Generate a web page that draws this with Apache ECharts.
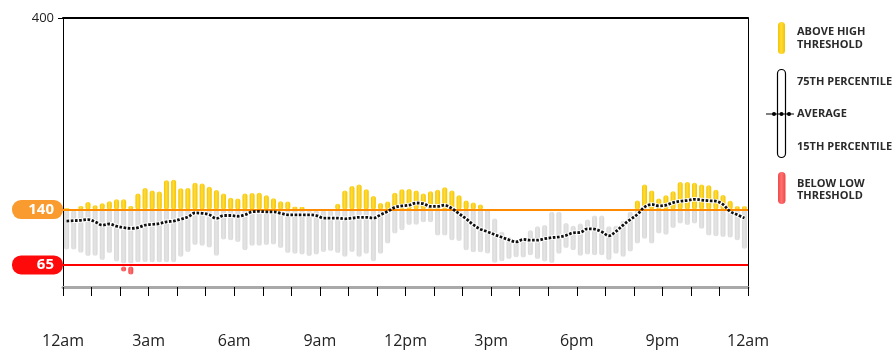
<!DOCTYPE html>
<html><head><meta charset="utf-8">
<script src="https://cdn.jsdelivr.net/npm/echarts@6/dist/echarts.min.js"></script>
<style>html,body{margin:0;padding:0;background:#fff}#c{width:895px;height:356px}</style>
</head><body><div id="c"></div>
<script>
// ---- data ----
const tickLabels = ['12am','3am','6am','9am','12pm','3pm','6pm','9pm','12am'];
const yLabelValues = [400];
const HIGH = 140;
const LOW = 65;
const slotHours = 0.25; // 96 slots of 15 minutes

const p75 = [142,139,145,150.5,146,148.5,151.5,154,154,145,162,169.5,166,164.5,180,180.5,
  169,169.5,176.5,175.5,171,166.5,162,156,155,162,162.5,163,159.5,155.5,151.5,151,
  144,143.5,139,139,139,139,148,166,172,174,167.5,158.5,149,151,163,167.5,
  168,166,162,165,167,170.5,166,159.5,152.5,149.5,147,141,128,110,103,98.5,
  100.5,112,117.5,119,137,137,122,118,121,126.5,132,132,117.5,118,125,137,
  152.5,174,166,155,159.5,165,177.5,177.5,176.5,174,173,167,160,152,144.5,144.5];

const p15 = [86,86,81.5,77,77.5,71.5,81,69.5,56,52,68.5,69,68.5,68.5,68.5,68.5,
  76,82.5,92,91,88.5,77.5,99.5,98.5,96,85,91,91,92,92.5,88,81,
  80,79,77,79,82.5,84,81,76,82.5,76,80,70,80,94,107.5,112,
  119,119.5,123,123,105,105,98.5,97.5,85,82,82,80.5,68,70,73,75.5,
  75,78,73,69.5,67.5,80,88,85,77.5,79,78,78,71.5,80,76,83,
  94,100.5,94,107.5,106,115,121,119,121,114,105,104,103,102,98.5,87];

const avg = [124.5,125,125.5,126.5,123.5,119,120.5,117.5,115.5,114.5,115.5,119,120,121,123.5,124.5,
  127,130,135.5,135,133,128,132,132,131,133,137,137.5,137,137,135,133,
  133,133,133,132,128.5,128.5,128.5,127.5,128.5,129.5,129.5,128.5,133,137.5,143,145,
  146,149,148,144.5,144.5,146,141.5,134.5,127.5,119.5,113.5,110,106,102.5,99,96.2,
  99.5,98.5,98.5,100.5,102,103,105,108.5,109,114,113.5,110,104.5,110.5,119,126.5,
  133.5,143.5,147,145,146,149.5,151.5,152.5,154,153,152,151.5,147,137.5,133,128.5];

// ---- build ----
const barData = p75.map((t, i) => [i * slotHours + slotHours / 2, p15[i], t]);
const avgData = avg.map((v, i) => [i * slotHours + slotHours / 2, v]);

const yellowFill = {type:'linear',x:0,y:0,x2:1,y2:0,colorStops:[
  {offset:0,color:'#f3c300'},{offset:0.45,color:'#ffdc3a'},{offset:1,color:'#f3c300'}]};
const grayFill = {type:'linear',x:0,y:0,x2:1,y2:0,colorStops:[
  {offset:0,color:'#d8d8d8'},{offset:0.45,color:'#e4e4e4'},{offset:1,color:'#d8d8d8'}]};
const redFill = {type:'linear',x:0,y:0,x2:1,y2:0,colorStops:[
  {offset:0,color:'#f04848'},{offset:0.45,color:'#ff7070'},{offset:1,color:'#f04848'}]};

function renderItem(params, api) {
  const x = api.value(0), lo = api.value(1), hi = api.value(2);
  const w = 5;
  const kids = [];
  function seg(a, b, fill, padTop, padBot) {
    const pt = api.coord([x, b]);
    const pb = api.coord([x, a]);
    const y1 = pt[1] + padTop, y2 = pb[1] - padBot;
    if (y2 - y1 <= 0) return;
    kids.push({type:'rect', shape:{x:pt[0]-w/2, y:y1, width:w, height:y2-y1, r:2.5}, style:{fill:fill}});
  }
  if (hi > HIGH) seg(Math.max(lo, HIGH), hi, yellowFill, 0, 0);
  const gTop = Math.min(hi, HIGH), gBot = Math.max(lo, LOW);
  if (gTop > gBot) seg(gBot, gTop, grayFill, 0, lo < LOW ? 1.5 : 0);
  if (lo < LOW) seg(lo, Math.min(hi, LOW), redFill, 1.5, 0);
  return {type:'group', children:kids};
}

function pillLabel(text, bg) {
  return {show:true, position:'start', distance:0, formatter:text, color:'#fff',
    fontSize:15, fontWeight:'bold', fontFamily:'Open Sans', backgroundColor:bg,
    borderRadius:9, padding:[1,9,1,4], width:38, lineHeight:17, align:'right'};
}

const lgFont = 'bold 11px "Open Sans"';
function lgText(x, y, t) {
  return {type:'text', x:x, y:y, style:{text:t, font:lgFont, fill:'#2a2a2a', verticalAlign:'middle'}};
}

const option = {
  animation:false,
  grid:{left:63, right:147, top:18, bottom:69, containLabel:false},
  xAxis:[
    {type:'value', min:0, max:24, interval:1, position:'bottom',
     axisLine:{show:true, onZero:false, lineStyle:{color:'#a9a9a9', width:3}},
     axisTick:{show:true, length:9, lineStyle:{color:'#000', width:1}},
     axisLabel:{show:true, margin:46, fontSize:16, color:'#222', fontFamily:'Open Sans',
       showMinLabel:true, showMaxLabel:true,
       formatter:v => (v % 3 === 0 ? tickLabels[v / 3] : '')},
     splitLine:{show:false}},
    {type:'value', min:0, max:24, position:'top',
     axisLine:{show:true, onZero:false, lineStyle:{color:'#000', width:2}},
     axisTick:{show:false}, axisLabel:{show:false}, splitLine:{show:false}}
  ],
  yAxis:[
    {type:'value', min:35, max:400, position:'left',
     axisLine:{show:true, onZero:false, lineStyle:{color:'#000', width:1}},
     axisTick:{show:true, length:5, customValues:yLabelValues, lineStyle:{color:'#000'}},
     axisLabel:{show:true, customValues:yLabelValues, margin:9, fontSize:13, color:'#222', fontFamily:'Open Sans'},
     splitLine:{show:false}},
    {type:'value', min:35, max:400, position:'right',
     axisLine:{show:true, onZero:false, lineStyle:{color:'#000', width:1}},
     axisTick:{show:false}, axisLabel:{show:false}, splitLine:{show:false}}
  ],
  series:[
    {type:'custom', renderItem:renderItem, data:barData, z:2,
     encode:{x:0, y:[1,2]},
     markLine:{silent:true, symbol:['none','none'], animation:false,
       data:[
         {yAxis:HIGH, lineStyle:{color:'#ff8a00', width:2, type:'solid'}, label:pillLabel('140','#f99b2e')},
         {yAxis:LOW, lineStyle:{color:'#ff0000', width:2, type:'solid'}, label:pillLabel('65','#ff0a0a')}
       ]}},
    {type:'line', data:avgData, smooth:0.35, symbol:'none', z:4,
     lineStyle:{color:'#ffffff', width:4.5, opacity:0.95}},
    {type:'line', data:avgData, smooth:0.35, symbol:'none', z:5,
     lineStyle:{color:'#111', width:2.8, type:[2.6,1.6], cap:'butt'}}
  ],
  graphic:[
    {type:'rect', shape:{x:778, y:22, width:7, height:32, r:3.5}, style:{fill:yellowFill}},
    lgText(797, 32, 'ABOVE HIGH'),
    lgText(797, 45, 'THRESHOLD'),
    {type:'rect', shape:{x:777.5, y:69.5, width:8, height:88, r:4}, style:{fill:'#fff', stroke:'#000', lineWidth:1.2}},
    lgText(797, 82, '75TH PERCENTILE'),
    {type:'line', shape:{x1:766, y1:114, x2:794, y2:114}, style:{stroke:'#000', lineWidth:1}},
    {type:'circle', shape:{cx:774, cy:114, r:2}, style:{fill:'#000'}},
    {type:'circle', shape:{cx:781.5, cy:114, r:2}, style:{fill:'#000'}},
    {type:'circle', shape:{cx:789, cy:114, r:2}, style:{fill:'#000'}},
    lgText(797, 114, 'AVERAGE'),
    lgText(797, 147, '15TH PERCENTILE'),
    {type:'rect', shape:{x:778, y:172, width:7.5, height:32, r:3.7}, style:{fill:redFill}},
    lgText(797, 183.5, 'BELOW LOW'),
    lgText(797, 196, 'THRESHOLD')
  ]
};

const chart = echarts.init(document.getElementById('c'), null, {renderer:'canvas'});
chart.setOption(option);
</script>
</body></html>
